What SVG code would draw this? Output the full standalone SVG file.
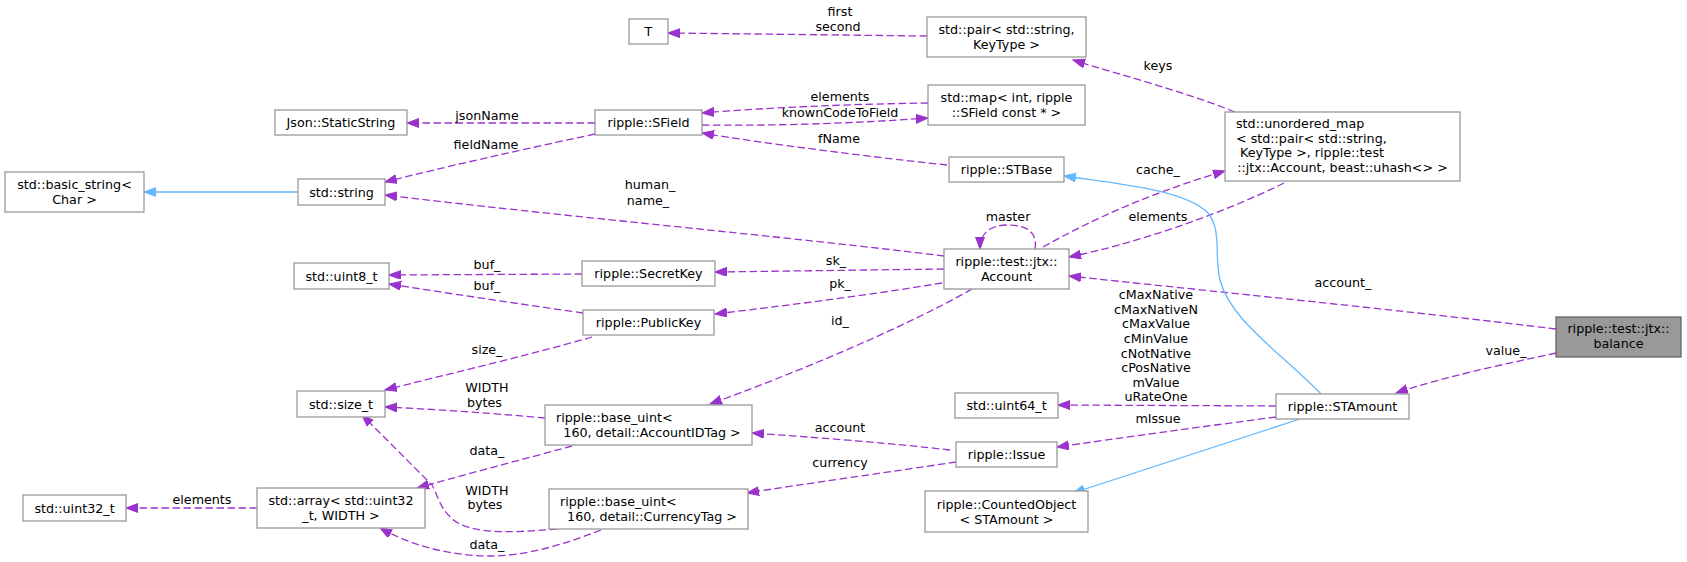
<svg xmlns="http://www.w3.org/2000/svg" width="1687" height="562" viewBox="0 0 1687 562">
<style>
text{font-family:"DejaVu Sans","Noto Sans",sans-serif;font-size:12.7px;fill:#000}
.n rect{fill:#fff;stroke:#999;stroke-width:1.3}
.n.hl rect{fill:#999;stroke:#666}
.n text{text-anchor:middle}
.n text.l{text-anchor:start}
.e{fill:none;stroke:#9a32cd;stroke-width:1.3;stroke-dasharray:7.5,3.5}
.i{fill:none;stroke:#63b8ff;stroke-width:1.3}
.lb text{text-anchor:middle}
</style>
<defs>
<marker id="aP" markerUnits="userSpaceOnUse" markerWidth="13" markerHeight="10" refX="12" refY="4.5" orient="auto">
<path d="M0,0 L12,4.5 L0,9 z" fill="#9a32cd" stroke="#9a32cd" stroke-width="1" stroke-dasharray="none"/>
</marker>
<marker id="aB" markerUnits="userSpaceOnUse" markerWidth="13" markerHeight="10" refX="12" refY="4.5" orient="auto">
<path d="M0,0 L12,4.5 L0,9 z" fill="#63b8ff" stroke="#63b8ff" stroke-width="1" stroke-dasharray="none"/>
</marker>
</defs>

<g id="edges">
<path class="e" marker-end="url(#aP)" d="M927,36 L668,33"/>
<path class="e" marker-end="url(#aP)" d="M928,103 C850,104 760,108 702,113"/>
<path class="e" marker-end="url(#aP)" d="M702,125 C780,126 860,123 928,118"/>
<path class="e" marker-end="url(#aP)" d="M947,165 C880,158 760,143 702,133"/>
<path class="e" marker-end="url(#aP)" d="M595,123 L407,123"/>
<path class="e" marker-end="url(#aP)" d="M595,134 C520,150 440,168 385,182"/>
<path class="e" marker-end="url(#aP)" d="M944,256 C800,238 550,215 385,195"/>
<path class="e" marker-end="url(#aP)" d="M1035,249 C1038,231 1025,225 1008,225 C990,225 980,233 980,249"/>
<path class="e" marker-end="url(#aP)" d="M944,269 L715,272"/>
<path class="e" marker-end="url(#aP)" d="M582,274 L389,275"/>
<path class="e" marker-end="url(#aP)" d="M942,283 C870,295 790,305 715,314"/>
<path class="e" marker-end="url(#aP)" d="M583,313 C520,304 440,292 389,284"/>
<path class="e" marker-end="url(#aP)" d="M592,337 C530,355 440,376 385,390"/>
<path class="e" marker-end="url(#aP)" d="M972,289 C900,330 790,375 710,404"/>
<path class="e" marker-end="url(#aP)" d="M545,418 C490,413 430,409 385,407"/>
<path class="e" marker-end="url(#aP)" d="M572,446 C520,460 460,476 417,488"/>
<path class="e" marker-end="url(#aP)" d="M557,529 C520,532 480,535 458,523 C440,512 438,495 432,485 L362,415"/>
<path class="e" marker-end="url(#aP)" d="M601,530 C570,542 530,556 490,556 C450,556 410,545 380,528"/>
<path class="e" marker-end="url(#aP)" d="M950,450 C890,443 810,437 752,433"/>
<path class="e" marker-end="url(#aP)" d="M956,462 C890,472 810,483 747,493"/>
<path class="e" marker-end="url(#aP)" d="M1276,406 L1058,405"/>
<path class="e" marker-end="url(#aP)" d="M1276,417 C1200,427 1120,438 1057,447"/>
<path class="e" marker-end="url(#aP)" d="M1043,247 C1100,215 1160,190 1225,171"/>
<path class="e" marker-end="url(#aP)" d="M1284,183 C1220,215 1130,245 1069,257"/>
<path class="e" marker-end="url(#aP)" d="M1235,112 C1180,90 1120,75 1073,60"/>
<path class="e" marker-end="url(#aP)" d="M1556,329 C1400,310 1200,290 1069,276"/>
<path class="e" marker-end="url(#aP)" d="M1556,353 C1500,365 1440,378 1396,393"/>
<path class="e" marker-end="url(#aP)" d="M257,508 L126,508"/>
<path class="i" marker-end="url(#aB)" d="M298,192 L144,192"/>
<path class="i" marker-end="url(#aB)" d="M1321,394 C1280,352 1230,320 1220,280 C1214,255 1222,230 1208,213 C1185,190 1120,184 1064,176"/>
<path class="i" marker-end="url(#aB)" d="M1300,419 L1073,493"/>
</g>

<g id="labels" class="lb">
<text x="840" y="16">first</text>
<text x="838" y="30.5">second</text>
<text x="840" y="100.5">elements</text>
<text x="840" y="117">knownCodeToField</text>
<text x="839" y="143">fName</text>
<text x="487" y="119.5">jsonName</text>
<text x="486" y="148.5">fieldName</text>
<text x="650" y="189">human_</text>
<text x="648" y="204.5">name_</text>
<text x="1008" y="221">master</text>
<text x="836" y="265">sk_</text>
<text x="840" y="288">pk_</text>
<text x="487" y="268.5">buf_</text>
<text x="487" y="290">buf_</text>
<text x="487" y="353.5">size_</text>
<text x="487" y="392">WIDTH</text>
<text x="484.5" y="407">bytes</text>
<text x="487" y="455">data_</text>
<text x="487" y="495">WIDTH</text>
<text x="485" y="509">bytes</text>
<text x="487" y="548.5">data_</text>
<text x="840" y="324.5">id_</text>
<text x="840" y="432">account</text>
<text x="840" y="467">currency</text>
<text x="1158" y="69.5">keys</text>
<text x="1158" y="173.5">cache_</text>
<text x="1158" y="221">elements</text>
<text x="1343" y="287">account_</text>
<text x="1506" y="355">value_</text>
<text x="1156" y="299.2">cMaxNative</text>
<text x="1156" y="313.8">cMaxNativeN</text>
<text x="1156" y="328.3">cMaxValue</text>
<text x="1156" y="342.9">cMinValue</text>
<text x="1156" y="357.5">cNotNative</text>
<text x="1156" y="372.1">cPosNative</text>
<text x="1156" y="386.6">mValue</text>
<text x="1156" y="401.2">uRateOne</text>
<text x="1158" y="423">mIssue</text>
<text x="202" y="504">elements</text>
</g>

<g id="node_T" class="n"><rect x="629" y="19" width="39" height="25"/><text x="648.5" y="36">T</text></g>
<g id="node_pair" class="n"><rect x="927" y="17" width="159" height="40"/><text x="1006.5" y="34">std::pair&lt; std::string,</text><text x="1006.5" y="49">KeyType &gt;</text></g>
<g id="node_map" class="n"><rect x="928" y="85" width="157" height="40"/><text x="1006.5" y="102">std::map&lt; int, ripple</text><text x="1006.5" y="117">::SField const * &gt;</text></g>
<g id="node_SField" class="n"><rect x="595" y="110" width="107" height="25"/><text x="648.5" y="127">ripple::SField</text></g>
<g id="node_Json" class="n"><rect x="275" y="110" width="132" height="25"/><text x="341" y="127">Json::StaticString</text></g>
<g id="node_basic_string" class="n"><rect x="5" y="172" width="139" height="40"/><text x="74.5" y="188.5">std::basic_string&lt;</text><text x="74.5" y="203.5">Char &gt;</text></g>
<g id="node_string" class="n"><rect x="298" y="179" width="87" height="26"/><text x="341.5" y="196.5">std::string</text></g>
<g id="node_STBase" class="n"><rect x="949" y="157" width="115" height="25"/><text x="1006.5" y="174">ripple::STBase</text></g>
<g id="node_unordered_map" class="n"><rect x="1225" y="112" width="235" height="69"/><text class="l" x="1236" y="128">std::unordered_map</text><text class="l" x="1236" y="142.7">&lt; std::pair&lt; std::string,</text><text class="l" x="1240" y="157.4">KeyType &gt;, ripple::test</text><text x="1342.5" y="172">::jtx::Account, beast::uhash&lt;&gt; &gt;</text></g>
<g id="node_Account" class="n"><rect x="944" y="249" width="125" height="40"/><text x="1006.5" y="265.5">ripple::test::jtx::</text><text x="1006.5" y="280.5">Account</text></g>
<g id="node_SecretKey" class="n"><rect x="582" y="261" width="133" height="25"/><text x="648.5" y="278">ripple::SecretKey</text></g>
<g id="node_uint8" class="n"><rect x="294" y="263" width="95" height="26"/><text x="341.5" y="280.5">std::uint8_t</text></g>
<g id="node_PublicKey" class="n"><rect x="583" y="310" width="131" height="25"/><text x="648.5" y="327">ripple::PublicKey</text></g>
<g id="node_size_t" class="n"><rect x="297" y="391" width="88" height="26"/><text x="341" y="408.5">std::size_t</text></g>
<g id="node_AccountIDTag" class="n"><rect x="545" y="405" width="207" height="40"/><text class="l" x="556" y="421.5">ripple::base_uint&lt;</text><text x="652" y="436.5">160, detail::AccountIDTag &gt;</text></g>
<g id="node_uint64" class="n"><rect x="955" y="393" width="103" height="25"/><text x="1006.5" y="410">std::uint64_t</text></g>
<g id="node_STAmount" class="n"><rect x="1276" y="394" width="133" height="25"/><text x="1342.5" y="411">ripple::STAmount</text></g>
<g id="node_Issue" class="n"><rect x="956" y="442" width="101" height="25"/><text x="1006.5" y="459">ripple::Issue</text></g>
<g id="node_balance" class="n hl"><rect x="1556" y="317" width="125" height="40"/><text x="1618.5" y="332.5">ripple::test::jtx::</text><text x="1618.5" y="347.5">balance</text></g>
<g id="node_uint32" class="n"><rect x="23" y="495" width="103" height="26"/><text x="74.5" y="512.5">std::uint32_t</text></g>
<g id="node_array" class="n"><rect x="257" y="488" width="168" height="40"/><text x="341" y="504.5">std::array&lt; std::uint32</text><text x="341" y="519.5">_t, WIDTH &gt;</text></g>
<g id="node_CurrencyTag" class="n"><rect x="549" y="489" width="199" height="40"/><text class="l" x="560" y="505.5">ripple::base_uint&lt;</text><text x="652" y="520.5">160, detail::CurrencyTag &gt;</text></g>
<g id="node_CountedObject" class="n"><rect x="925" y="491" width="163" height="41"/><text x="1006.5" y="508.5">ripple::CountedObject</text><text x="1006.5" y="523.5">&lt; STAmount &gt;</text></g>
</svg>
